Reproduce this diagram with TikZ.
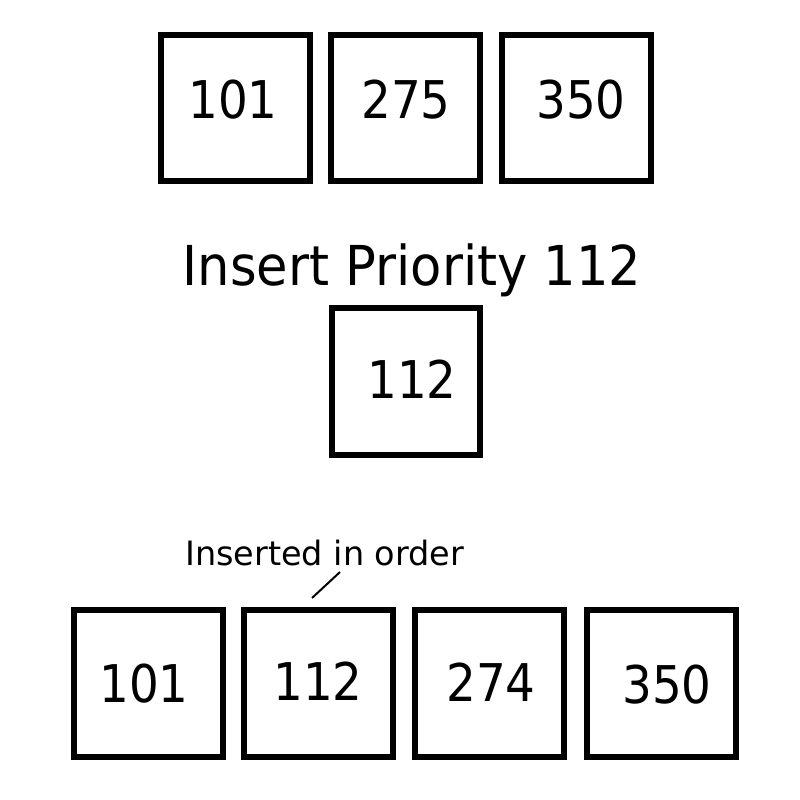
\documentclass[tikz,border=0pt]{standalone}
\usepackage{fontspec}
\setmainfont{DejaVu Sans}
\newfontfamily\narrowfont[FakeStretch=0.9]{DejaVu Sans}
\newfontfamily\titlefont[FakeStretch=0.93]{DejaVu Sans}
\begin{document}
\begin{tikzpicture}[x=1pt,y=-1pt,
  cell/.style={draw=black,line width=6pt,inner sep=0pt,fill=white},
  num/.style={anchor=base,inner sep=0pt,font=\narrowfont\fontsize{52}{60}\selectfont},
  title/.style={anchor=base,inner sep=0pt,font=\titlefont\fontsize{55}{64}\selectfont},
  note/.style={anchor=base west,inner sep=0pt,font=\fontsize{33.5}{40}\selectfont},
  pointer/.style={draw=black,line width=2pt}]
\useasboundingbox[fill=white] (0,0) rectangle (800,800);
% top row
\node[cell,minimum width=149pt,minimum height=146pt] (t1) at (235.5,108) {};
\node[cell,minimum width=149pt,minimum height=146pt] (t2) at (405.5,108) {};
\node[cell,minimum width=149pt,minimum height=146pt] (t3) at (576.5,108) {};
\node[num] (t1n) at (233,118) {101};
\node[num] (t2n) at (406,118) {275};
\node[num] (t3n) at (581,118) {350};
% middle
\node[title] (ttl) at (412,285) {Insert Priority 112};
\node[cell,minimum width=148pt,minimum height=147pt] (m) at (406,381.5) {};
\node[num] (mn) at (412,398) {112};
% bottom row
\node[cell,minimum width=149pt,minimum height=147pt] (b1) at (148.5,683.5) {};
\node[cell,minimum width=149pt,minimum height=147pt] (b2) at (318.25,683.5) {};
\node[cell,minimum width=149pt,minimum height=147pt] (b3) at (489.5,683.5) {};
\node[cell,minimum width=149pt,minimum height=147pt] (b4) at (661.5,683.5) {};
\node[num] (b1n) at (144,702) {101};
\node[num] (b2n) at (318,700) {112};
\node[num] (b3n) at (491,701) {274};
\node[num] (b4n) at (667,703) {350};
\node[note] (lbl) at (185,565) {Inserted in order};
\coordinate (pa) at (312,598);
\coordinate (pb) at (340,572);
\draw[pointer] (pa) -- (pb);
\end{tikzpicture}
\end{document}
